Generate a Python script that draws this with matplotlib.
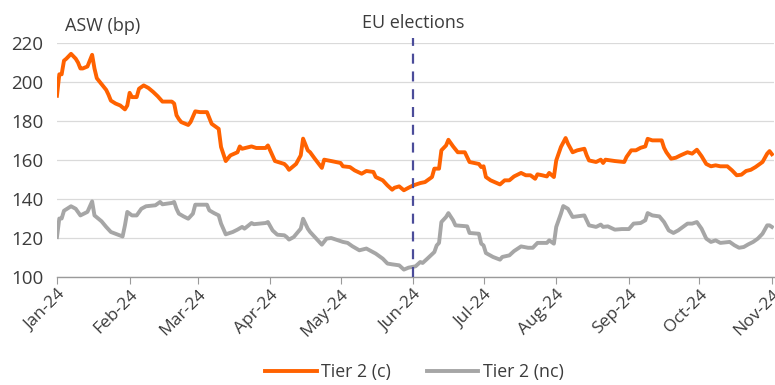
import pandas as pd
import matplotlib.pyplot as plt
import matplotlib.dates as mdates

# =====================
# DATA
# =====================
dates_c = [
    "2024-01-01", "2024-01-02", "2024-01-03", "2024-01-04", "2024-01-05", "2024-01-07",
    "2024-01-09", "2024-01-10", "2024-01-11", "2024-01-12", "2024-01-14", "2024-01-16",
    "2024-01-17", "2024-01-18", "2024-01-20", "2024-01-22", "2024-01-23", "2024-01-24",
    "2024-01-26", "2024-01-28", "2024-01-30", "2024-01-31", "2024-02-01", "2024-02-02",
    "2024-02-04", "2024-02-05", "2024-02-07", "2024-02-09", "2024-02-11", "2024-02-13",
    "2024-02-15", "2024-02-19", "2024-02-20", "2024-02-21", "2024-02-22", "2024-02-23",
    "2024-02-26", "2024-02-27", "2024-02-29", "2024-03-02", "2024-03-05", "2024-03-07",
    "2024-03-10", "2024-03-11", "2024-03-13", "2024-03-15", "2024-03-18", "2024-03-19",
    "2024-03-20", "2024-03-24", "2024-03-26", "2024-03-30", "2024-03-31", "2024-04-03",
    "2024-04-07", "2024-04-08", "2024-04-09", "2024-04-12", "2024-04-14", "2024-04-15",
    "2024-04-17", "2024-04-18", "2024-04-20", "2024-04-23", "2024-04-24", "2024-04-27",
    "2024-05-01", "2024-05-02", "2024-05-05", "2024-05-07", "2024-05-10", "2024-05-12",
    "2024-05-15", "2024-05-16", "2024-05-19", "2024-05-21", "2024-05-23", "2024-05-24",
    "2024-05-26", "2024-05-28", "2024-05-30", "2024-06-01", "2024-06-04", "2024-06-06",
    "2024-06-09", "2024-06-10", "2024-06-12", "2024-06-13", "2024-06-15", "2024-06-16",
    "2024-06-18", "2024-06-20", "2024-06-23", "2024-06-25", "2024-06-29", "2024-06-30",
    "2024-07-01", "2024-07-02", "2024-07-04", "2024-07-08", "2024-07-10", "2024-07-12",
    "2024-07-14", "2024-07-17", "2024-07-19", "2024-07-21", "2024-07-23", "2024-07-24",
    "2024-07-26", "2024-07-28", "2024-07-29", "2024-07-31", "2024-08-01", "2024-08-03",
    "2024-08-05", "2024-08-06", "2024-08-08", "2024-08-10", "2024-08-13", "2024-08-14",
    "2024-08-15", "2024-08-18", "2024-08-20", "2024-08-21", "2024-08-22", "2024-08-26",
    "2024-08-30", "2024-08-31", "2024-09-02", "2024-09-04", "2024-09-06", "2024-09-08",
    "2024-09-09", "2024-09-11", "2024-09-15", "2024-09-16", "2024-09-17", "2024-09-19",
    "2024-09-21", "2024-09-23", "2024-09-26", "2024-09-28", "2024-09-30", "2024-10-02",
    "2024-10-04", "2024-10-06", "2024-10-08", "2024-10-10", "2024-10-13", "2024-10-15",
    "2024-10-17", "2024-10-19", "2024-10-21", "2024-10-23", "2024-10-25", "2024-10-28",
    "2024-10-30", "2024-10-31", "2024-11-01",
]
tier2_c = [
    193, 204, 204, 211, 212, 214.5,
    212, 210, 207, 207, 208, 214,
    207, 202, 199, 196, 193.5, 190.5,
    189, 188, 186, 188, 194.5, 192.3,
    192.3, 196.6, 198.3, 197, 195, 192.7,
    190, 190, 189, 183, 181, 179.5,
    178, 179.5, 185, 184.6, 184.6, 178.6,
    176, 166.7, 159.5, 162.4, 164, 167,
    165.8, 167, 166.2, 166.2, 167.5, 159.5,
    158, 156.8, 155, 158, 162.4, 171,
    165, 164, 160.7, 156, 160.2, 159.5,
    158.5, 156.8, 156.4, 154.7, 153, 154.4,
    153.9, 151.3, 149.6, 147, 144.8, 145.8,
    146.5, 144.5, 145.8, 147, 148.2, 148.7,
    151.3, 155.6, 155.6, 165, 167.5, 170.4,
    167, 164, 164, 159, 158, 156.4,
    156.8, 151.3, 149.6, 147.5, 149.6, 149.6,
    151.6, 153.4, 152.2, 152.2, 150.4, 152.7,
    152.2, 151.6, 153.4, 151.3, 159.8, 166.7,
    171.3, 168.4, 164, 165, 165.8, 162.4,
    159.8, 159, 160.2, 158.5, 160.2, 159.5,
    159, 161.6, 165, 165, 166.3, 167,
    170.9, 170.1, 170.1, 166.3, 164, 160.7,
    161.2, 162.4, 164, 163.3, 165.3, 162,
    158, 156.8, 157.3, 156.8, 156.8, 154.7,
    152.2, 152.5, 154.4, 155, 156.4, 159,
    163.3, 164.6, 163,
]

dates_nc = [
    "2024-01-01", "2024-01-02", "2024-01-03", "2024-01-04", "2024-01-07", "2024-01-09",
    "2024-01-11", "2024-01-14", "2024-01-16", "2024-01-17", "2024-01-20", "2024-01-22",
    "2024-01-24", "2024-01-26", "2024-01-29", "2024-01-30", "2024-01-31", "2024-02-02",
    "2024-02-04", "2024-02-06", "2024-02-08", "2024-02-12", "2024-02-14", "2024-02-15",
    "2024-02-19", "2024-02-20", "2024-02-21", "2024-02-22", "2024-02-24", "2024-02-26",
    "2024-02-28", "2024-02-29", "2024-03-05", "2024-03-06", "2024-03-08", "2024-03-10",
    "2024-03-11", "2024-03-13", "2024-03-16", "2024-03-18", "2024-03-20", "2024-03-21",
    "2024-03-24", "2024-03-25", "2024-03-30", "2024-03-31", "2024-04-02", "2024-04-04",
    "2024-04-07", "2024-04-08", "2024-04-09", "2024-04-11", "2024-04-14", "2024-04-15",
    "2024-04-17", "2024-04-18", "2024-04-20", "2024-04-23", "2024-04-25", "2024-04-27",
    "2024-04-30", "2024-05-02", "2024-05-04", "2024-05-06", "2024-05-09", "2024-05-12",
    "2024-05-16", "2024-05-19", "2024-05-21", "2024-05-23", "2024-05-26", "2024-05-28",
    "2024-05-30", "2024-06-02", "2024-06-04", "2024-06-05", "2024-06-07", "2024-06-10",
    "2024-06-11", "2024-06-12", "2024-06-13", "2024-06-15", "2024-06-16", "2024-06-18",
    "2024-06-19", "2024-06-24", "2024-06-25", "2024-06-29", "2024-06-30", "2024-07-01",
    "2024-07-02", "2024-07-05", "2024-07-08", "2024-07-09", "2024-07-12", "2024-07-14",
    "2024-07-17", "2024-07-20", "2024-07-22", "2024-07-24", "2024-07-28", "2024-07-29",
    "2024-07-31", "2024-08-01", "2024-08-03", "2024-08-04", "2024-08-06", "2024-08-08",
    "2024-08-10", "2024-08-13", "2024-08-14", "2024-08-15", "2024-08-18", "2024-08-20",
    "2024-08-21", "2024-08-23", "2024-08-26", "2024-08-29", "2024-09-01", "2024-09-03",
    "2024-09-06", "2024-09-08", "2024-09-09", "2024-09-11", "2024-09-14", "2024-09-16",
    "2024-09-18", "2024-09-20", "2024-09-22", "2024-09-26", "2024-09-28", "2024-09-30",
    "2024-10-02", "2024-10-04", "2024-10-06", "2024-10-08", "2024-10-10", "2024-10-14",
    "2024-10-16", "2024-10-18", "2024-10-20", "2024-10-22", "2024-10-24", "2024-10-26",
    "2024-10-28", "2024-10-30", "2024-10-31", "2024-11-01",
]
tier2_nc = [
    120.5, 130, 130, 134, 136.3, 135,
    131.6, 133.4, 138.8, 131.6, 128.6, 125.7,
    123.1, 122.2, 120.8, 126.5, 133.4, 131.6,
    131.6, 135, 136.3, 136.8, 138.5, 137.3,
    138, 138.5, 135, 132.5, 131.1, 129.9,
    132.5, 137.1, 137.1, 134.2, 132.8, 131.6,
    127.4, 121.9, 123.1, 124.3, 125.7, 124.8,
    127.7, 127.1, 127.7, 128.2, 123.9, 121.7,
    121.4, 120.5, 119.2, 120.5, 124.8, 129.9,
    124.8, 123.1, 120.5, 116.6, 119.7, 120,
    118.8, 118, 117.5, 115.8, 113.7, 114.6,
    112, 109.4, 106.9, 106.5, 106, 103.8,
    104.8, 105.5, 107.7, 107.2, 109.4, 112.8,
    116.2, 117.5, 128.2, 130.8, 132.8, 129.1,
    126.5, 126, 122.6, 122.2, 117.1, 116.2,
    112.3, 110.3, 108.9, 110.3, 111.1, 113.3,
    115.7, 115, 115, 117.5, 117.5, 118.8,
    117.1, 125.7, 132.5, 136.4, 135, 130.8,
    131.1, 131.6, 129.1, 126.5, 125.7, 126.9,
    125.7, 126, 124.3, 124.6, 124.6, 127.4,
    127.7, 129.1, 132.8, 131.6, 131.1, 128.2,
    123.9, 122.6, 123.9, 127.4, 127.4, 128.2,
    124.8, 119.7, 118, 118.8, 117.5, 118,
    116.3, 115, 115.4, 116.8, 118, 119.7,
    122.2, 126.5, 126.5, 125.7,
]

event_date = "2024-06-01"
event_label = "EU elections"
y_ticks = [100, 120, 140, 160, 180, 200, 220]

# =====================
# STYLE
# =====================
plt.rcParams["font.family"] = ["Open Sans", "DejaVu Sans"]
TEXT = "#3c3c3c"
ORANGE = "#FF6200"
GREY = "#A6A6A6"
DASH = "#4B4C9A"

# =====================
# PLOT
# =====================
fig = plt.figure(figsize=(7.75, 3.85), dpi=100)
ax = fig.add_axes([0.0735, 0.2805, 0.9255, 0.6075])

ax.plot(pd.to_datetime(dates_c), tier2_c, color=ORANGE, lw=2.8,
        solid_joinstyle="round", label="Tier 2 (c)", zorder=3)
ax.plot(pd.to_datetime(dates_nc), tier2_nc, color=GREY, lw=2.8,
        solid_joinstyle="round", label="Tier 2 (nc)", zorder=2)

ev = pd.to_datetime(event_date)
ax.axvline(ev, ymin=0, ymax=1.02, color=DASH, lw=1.6, ls=(0, (4.5, 3.5)),
           clip_on=False, zorder=4)
ax.text(ev, 1.085, event_label, transform=ax.get_xaxis_transform(),
        ha="center", va="center", fontsize=13, color=TEXT)
ax.text(0.011, 1.075, "ASW (bp)", transform=ax.transAxes,
        ha="left", va="center", fontsize=13, color=TEXT)

ax.set_ylim(100, 220)
ax.set_yticks(y_ticks)
ax.set_xlim(pd.Timestamp("2024-01-01"), pd.Timestamp("2024-11-02"))
ax.xaxis.set_major_locator(mdates.MonthLocator())
ax.xaxis.set_major_formatter(mdates.DateFormatter("%b-%y"))

ax.grid(axis="y", color="#DADADA", lw=0.9)
ax.set_axisbelow(True)
for side in ["left", "right", "top"]:
    ax.spines[side].set_visible(False)
ax.spines["bottom"].set_color("#9A9A9A")
ax.spines["bottom"].set_linewidth(1.0)

ax.tick_params(axis="y", length=0, labelsize=13.5, colors=TEXT, pad=10)
ax.tick_params(axis="x", length=5, color="#9A9A9A", labelsize=12.5,
               labelcolor=TEXT, pad=2)
for lbl in ax.get_xticklabels():
    lbl.set_rotation(45)
    lbl.set_ha("right")
    lbl.set_rotation_mode("anchor")

leg = fig.legend(loc="center", bbox_to_anchor=(0.535, 0.033), ncol=2,
                 frameon=False, fontsize=12.8, handlelength=2.9,
                 columnspacing=2.0, handletextpad=0.25)
for t in leg.get_texts():
    t.set_color(TEXT)

fig.savefig("out.png", dpi=100)
